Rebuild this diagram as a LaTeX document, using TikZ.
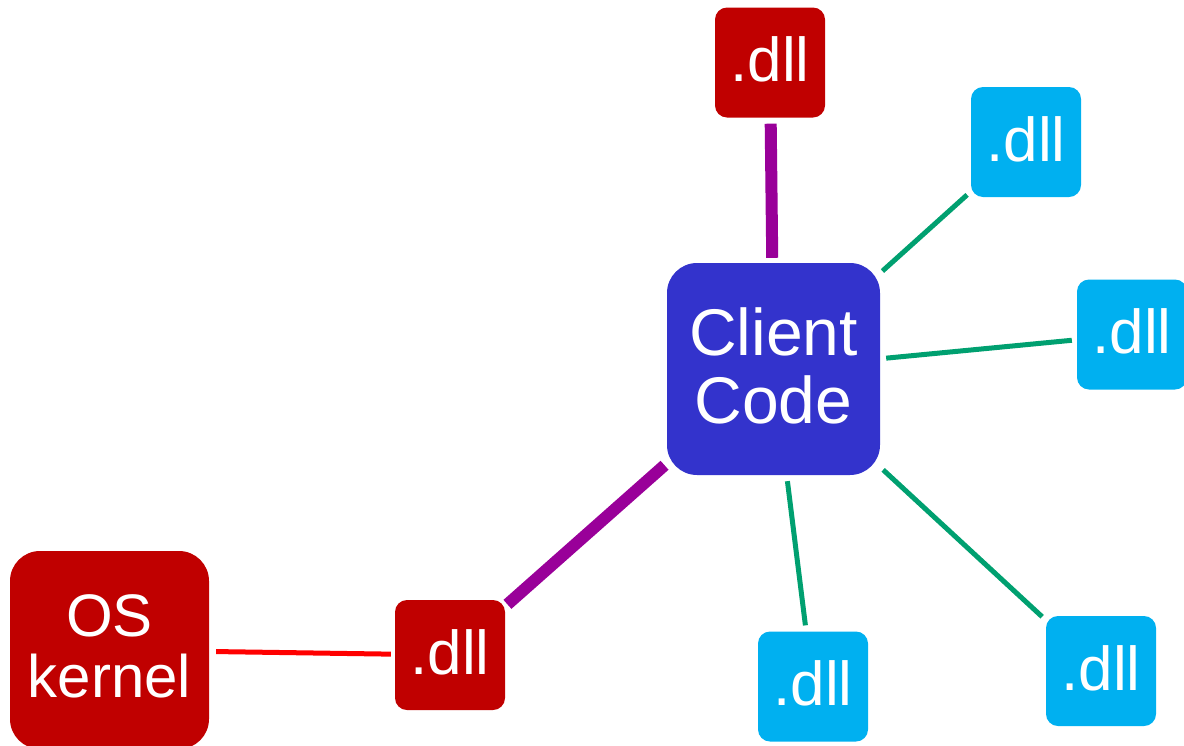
\documentclass[tikz,border=0pt]{standalone}
\usepackage{fontspec}
\setmainfont{Liberation Sans}
\definecolor{dllred}{HTML}{C00000}
\definecolor{dllblue}{HTML}{00B0F0}
\definecolor{clientblue}{HTML}{3333CC}
\definecolor{linkpurple}{HTML}{990099}
\definecolor{linkgreen}{HTML}{00A070}
\definecolor{linkred}{HTML}{FF0000}
\begin{document}
\begin{tikzpicture}[x=1pt,y=-1pt,
  box/.style={inner sep=0pt, text=white, align=center},
  dllbox/.style={box, minimum width=110pt, minimum height=110pt, rounded corners=12pt,
    font=\fontsize{62}{62}\selectfont, text depth=6pt},
  reddll/.style={dllbox, fill=dllred},
  bluedll/.style={dllbox, fill=dllblue},
  clientbox/.style={box, fill=clientblue, minimum width=213pt, minimum height=212pt,
    rounded corners=30pt, font=\fontsize{66}{68}\selectfont, text depth=7pt},
  osbox/.style={box, fill=dllred, minimum width=199pt, minimum height=198pt,
    rounded corners=30pt, font=\fontsize{60}{61}\selectfont, text depth=7pt},
  purplelink/.style={draw=linkpurple, line width=12pt},
  greenlink/.style={draw=linkgreen, line width=5pt},
  redlink/.style={draw=linkred, line width=5pt}]
\useasboundingbox (0,0) rectangle (1184,745);
\node[reddll] (topdll) at (770,62.5) {.dll};
\node[bluedll] (b1) at (1026,142) {.dll};
\node[bluedll] (b2) at (1132,334.5) {.dll};
\node[clientbox] (client) at (773.5,369) {Client\\Code};
\node[bluedll] (b3) at (813,686.5) {.dll};
\node[bluedll] (b4) at (1101,671) {.dll};
\node[reddll] (rdll) at (450,655) {.dll};
\node[osbox] (os) at (109.5,650) {OS\\kernel};

\draw[purplelink, shorten <=6pt, shorten >=5pt] (topdll) -- (client);
\draw[purplelink, shorten <=3pt, shorten >=3pt] (client) -- (rdll);
\draw[greenlink, shorten <=3pt, shorten >=5pt] (client) -- (b1);
\draw[greenlink, shorten <=6pt, shorten >=5pt] (client) -- (b2);
\draw[greenlink, shorten <=6pt, shorten >=6pt] (client) -- (b3);
\draw[greenlink, shorten <=4pt, shorten >=5pt] (client) -- (b4);
\draw[redlink, shorten <=7pt, shorten >=4pt] (os) -- (rdll);
\end{tikzpicture}
\end{document}
